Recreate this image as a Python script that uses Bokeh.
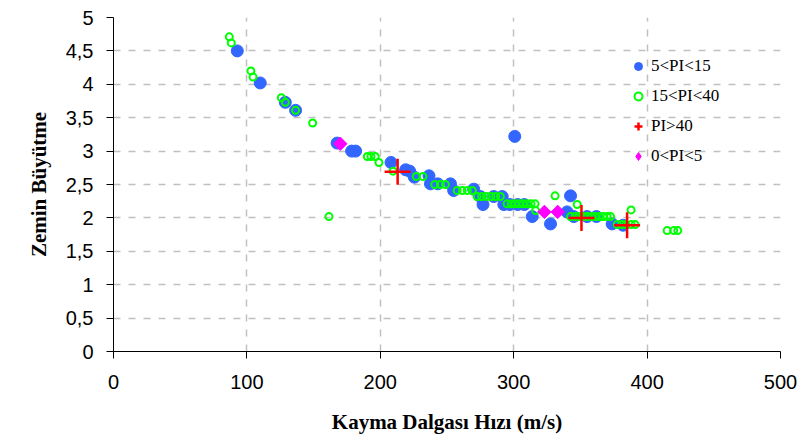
import math
from bokeh.plotting import figure
from bokeh.models import Range1d, FixedTicker, CustomJSTickFormatter, Legend, LegendItem
from bokeh.embed import file_html
from bokeh.resources import INLINE

# 5<PI<15
blue_x = [92.8, 110, 128.8, 136.5, 167.6, 178.5, 181.5, 208, 219, 222, 225.5, 236.5, 237.6, 243,
          252.6, 255, 270, 275, 277, 285, 291.4, 292.6, 297, 300.8, 303, 308, 313.9, 327.6, 340,
          342.6, 345, 355, 362, 373.8, 382]
blue_y = [4.50, 4.02, 3.73, 3.61, 3.12, 3.00, 3.00, 2.83, 2.72, 2.70, 2.61, 2.63, 2.51, 2.51,
          2.51, 2.41, 2.43, 2.32, 2.20, 2.32, 2.32, 2.20, 2.20, 3.22, 2.20, 2.20, 2.02, 1.91, 2.09,
          2.33, 2.02, 2.02, 2.02, 1.91, 1.89]

# 15<PI<40
green_x = [86.8, 88.3, 103, 104.6, 125.8, 128.8, 136.5, 149.3, 161.5, 190.3, 193, 196.2, 199,
           209.6, 227, 232, 240.8, 245, 248.8, 257.6, 261.5, 265.2, 269, 272.6, 276, 279.5, 283,
           286.5, 290, 295, 298, 301, 304, 307, 310, 313, 316, 316.4, 331, 347.6,
           342.6, 346, 349, 352, 355, 358, 361, 364, 367, 370, 372.6,
           377.6, 381, 384, 388, 391, 388, 415, 420, 423]
green_y = [4.71, 4.62, 4.20, 4.11, 3.80, 3.73, 3.61, 3.42, 2.02, 2.92, 2.92, 2.92, 2.83,
           2.70, 2.62, 2.62, 2.50, 2.50, 2.50, 2.41, 2.41, 2.41, 2.41, 2.32, 2.32, 2.32, 2.32,
           2.32, 2.32, 2.21, 2.21, 2.21, 2.21, 2.21, 2.21, 2.21, 2.21, 2.11, 2.33, 2.20,
           2.02, 2.02, 2.02, 2.02, 2.02, 2.02, 2.02, 2.02, 2.02, 2.02, 2.02,
           1.90, 1.90, 1.90, 1.90, 1.90, 2.12, 1.81, 1.81, 1.81]

# PI>40
red_x = [213, 350.8, 385]
red_y = [2.69, 2.00, 1.89]

# 0<PI<5
mag_x = [170, 323, 333]
mag_y = [3.11, 2.09, 2.09]

x_ticks = [0, 100, 200, 300, 400, 500]
y_ticks = [0, 0.5, 1, 1.5, 2, 2.5, 3, 3.5, 4, 4.5, 5]

p = figure(width=804, height=440, output_backend="svg", toolbar_location=None,
           x_range=Range1d(0, 500), y_range=Range1d(0, 5),
           min_border_left=113, min_border_right=24, min_border_top=17, min_border_bottom=89)
p.outline_line_color = None
p.background_fill_color = "white"

r_blue = p.scatter(blue_x, blue_y, marker="circle", size=12, fill_color="#3366FF",
                   line_color="#3366FF")
r_green = p.scatter(green_x, green_y, marker="circle", size=7, fill_color=None,
                    line_color="#00FF00", line_width=2)
r_red = p.scatter(red_x, red_y, marker="cross", size=26, line_color="#FF0000", line_width=2.5)
r_mag = p.scatter(mag_x, mag_y, marker="square", size=9.5, angle=math.pi / 4,
                  fill_color="#FF00FF", line_color="#FF00FF")
# legend-only glyph for the diamond symbol (drawn outside the visible range)
r_mag_leg = p.scatter([-1000], [-1000], marker="diamond", size=16,
                      fill_color="#FF00FF", line_color="#FF00FF")

for ax in (p.xaxis[0], p.yaxis[0]):
    ax.axis_line_color = "black"
    ax.axis_line_width = 1
    ax.major_tick_line_color = "black"
    ax.major_tick_out = 7
    ax.major_tick_in = 0
    ax.minor_tick_line_color = None
    ax.major_label_text_font = "Liberation Sans"
    ax.major_label_text_font_size = "20px"
    ax.major_label_text_color = "black"
    ax.axis_label_text_font = "Liberation Serif"
    ax.axis_label_text_font_style = "bold"
    ax.axis_label_text_font_size = "21px"
    ax.axis_label_text_color = "black"

p.xaxis.ticker = FixedTicker(ticks=x_ticks)
p.yaxis.ticker = FixedTicker(ticks=y_ticks)
p.yaxis.formatter = CustomJSTickFormatter(code="return tick.toString().replace('.', ',');")
p.xaxis.major_label_standoff = 16
p.yaxis.major_label_standoff = 13
p.xaxis.axis_label = "Kayma Dalgası Hızı (m/s)"
p.yaxis.axis_label = "Zemin Büyütme"
p.xaxis.axis_label_standoff = 18
p.yaxis.axis_label_standoff = 12

for g in (p.xgrid[0], p.ygrid[0]):
    g.grid_line_color = "#C0C0C0"
    g.grid_line_width = 1.5
    g.grid_line_dash = "7 8"

legend = Legend(items=[
    LegendItem(label="5<PI<15", renderers=[r_blue]),
    LegendItem(label="15<PI<40", renderers=[r_green]),
    LegendItem(label="PI>40", renderers=[r_red]),
    LegendItem(label="0<PI<5", renderers=[r_mag_leg]),
], location=(515, 185), orientation="vertical")
legend.border_line_color = None
legend.background_fill_alpha = 0
legend.padding = 0
legend.margin = 0
legend.spacing = 10
legend.glyph_width = 20
legend.glyph_height = 20
legend.label_height = 20
legend.label_standoff = 3
legend.label_text_font = "Liberation Serif"
legend.label_text_font_size = "17px"
legend.label_text_color = "black"
p.add_layout(legend, "center")

open("out.html", "w").write(file_html(p, INLINE))
